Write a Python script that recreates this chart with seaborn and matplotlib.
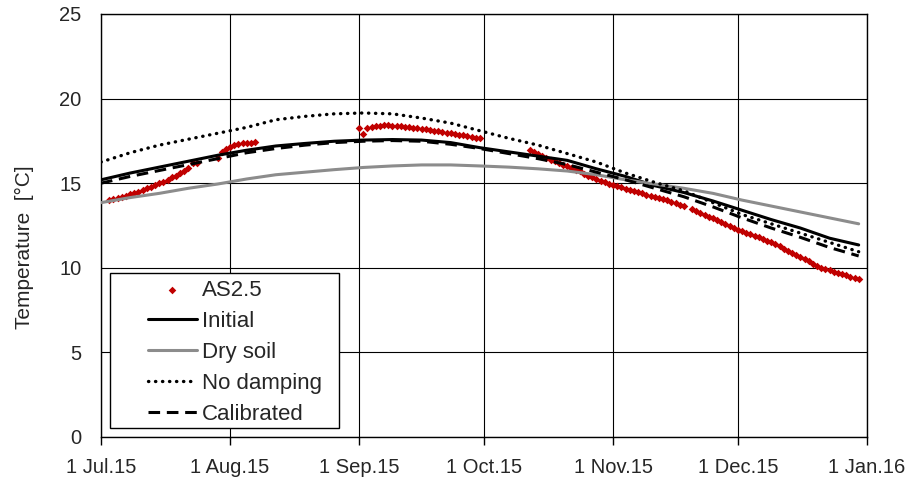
import matplotlib
matplotlib.use("Agg")
import matplotlib.pyplot as plt
from matplotlib.patches import Rectangle
import pandas as pd
import seaborn as sns

# Simulated temperatures, one value every 7 days from 1 Jul 2015
model_start = "2015-07-01"
initial = [15.2, 15.6, 15.95, 16.3, 16.65, 16.95, 17.2, 17.35, 17.48, 17.55, 17.58,
           17.55, 17.4, 17.1, 16.85, 16.6, 16.35, 15.85, 15.4, 14.85, 14.45, 13.95,
           13.4, 12.85, 12.35, 11.75, 11.35]
dry_soil = [13.85, 14.15, 14.4, 14.7, 14.95, 15.25, 15.5, 15.65, 15.8, 15.93, 16.02,
            16.08, 16.08, 16.02, 15.95, 15.85, 15.72, 15.5, 15.2, 14.95, 14.7, 14.4,
            14.0, 13.65, 13.3, 12.95, 12.6]
no_damping = [16.25, 16.8, 17.25, 17.6, 17.95, 18.3, 18.75, 18.95, 19.1, 19.15, 19.1,
              18.85, 18.55, 18.1, 17.65, 17.25, 16.75, 16.25, 15.6, 15.05, 14.55, 13.85,
              13.15, 12.6, 12.05, 11.5, 10.95]
calibrated = [15.0, 15.4, 15.75, 16.1, 16.45, 16.8, 17.05, 17.25, 17.4, 17.48, 17.52,
              17.48, 17.3, 17.05, 16.75, 16.45, 16.1, 15.65, 15.2, 14.7, 14.2, 13.6,
              12.95, 12.35, 11.8, 11.2, 10.7]

# Measured daily values at sensor AS2.5, in runs without gaps
as25_starts = ["2015-07-03", "2015-07-29", "2015-09-01", "2015-10-12", "2015-11-20"]
as25_runs = [
    [14.0, 14.05, 14.1, 14.2, 14.25, 14.35, 14.4, 14.5, 14.6, 14.7, 14.8, 14.9,
     15.0, 15.1, 15.2, 15.35, 15.45, 15.6, 15.75, 15.9, 16.2, 16.2],
    [16.47, 16.85, 17.05, 17.15, 17.25, 17.3, 17.35, 17.38, 17.4, 17.42],
    [18.24, 17.9, 18.24, 18.32, 18.38, 18.4, 18.42, 18.42, 18.4, 18.38, 18.36,
     18.34, 18.32, 18.28, 18.25, 18.2, 18.18, 18.14, 18.1, 18.06, 18.02, 17.98,
     17.94, 17.9, 17.86, 17.82, 17.78, 17.74, 17.7, 17.68],
    [16.96, 16.85, 16.75, 16.6, 16.5, 16.4, 16.3, 16.2, 16.1, 16.0, 15.9, 15.8,
     15.7, 15.55, 15.45, 15.35, 15.25, 15.15, 15.05, 14.98, 14.9, 14.82, 14.75,
     14.68, 14.6, 14.53, 14.46, 14.4, 14.32, 14.26, 14.2, 14.12, 14.05, 13.98,
     13.9, 13.82, 13.74, 13.65],
    [13.46, 13.36, 13.25, 13.14, 13.03, 12.93, 12.83, 12.72, 12.6, 12.48, 12.36,
     12.25, 12.15, 12.06, 11.98, 11.9, 11.8, 11.7, 11.6, 11.5, 11.38, 11.26, 11.13,
     11.0, 10.88, 10.76, 10.63, 10.5, 10.38, 10.25, 10.12, 10.0, 9.92, 9.85, 9.78,
     9.7, 9.62, 9.55, 9.48, 9.42, 9.36],
]

tick_dates = ["2015-07-01", "2015-08-01", "2015-09-01", "2015-10-01",
              "2015-11-01", "2015-12-01", "2016-01-01"]
tick_labels = ["1 Jul.15", "1 Aug.15", "1 Sep.15", "1 Oct.15",
               "1 Nov.15", "1 Dec.15", "1 Jan.16"]
y_ticks = [0, 5, 10, 15, 20, 25]

sns.set_theme(style="white")
plt.rcParams["font.family"] = ["Liberation Sans", "DejaVu Sans"]

model_dates = pd.date_range(model_start, periods=len(initial), freq="7D")
model = pd.DataFrame({"date": model_dates, "Initial": initial, "Dry soil": dry_soil,
                      "No damping": no_damping, "Calibrated": calibrated})
meas = pd.concat([
    pd.DataFrame({"date": pd.date_range(s, periods=len(v), freq="D"), "temp": v})
    for s, v in zip(as25_starts, as25_runs)
], ignore_index=True)

fig = plt.figure(figsize=(9.13, 4.79), dpi=100)
ax = fig.add_axes([101 / 913, 42 / 479, 766 / 913, 423 / 479])

sns.scatterplot(data=meas, x="date", y="temp", ax=ax, marker="D", s=15,
                color="#C00000", edgecolor="#C00000", linewidth=0,
                label="AS2.5", zorder=2)
sns.lineplot(data=model, x="date", y="Initial", ax=ax, color="black",
             linewidth=2.2, label="Initial", zorder=3)
sns.lineplot(data=model, x="date", y="Dry soil", ax=ax, color="#8C8C8C",
             linewidth=2.2, label="Dry soil", zorder=3)
sns.lineplot(data=model, x="date", y="No damping", ax=ax, color="black",
             linewidth=2.4, linestyle=(0, (0.1, 2.0)), dash_capstyle="round",
             label="No damping", zorder=3)
sns.lineplot(data=model, x="date", y="Calibrated", ax=ax, color="black",
             linewidth=2.2, linestyle=(0, (3.8, 2.2)), label="Calibrated", zorder=3)

ax.set_xlim(pd.Timestamp(tick_dates[0]), pd.Timestamp(tick_dates[-1]))
ax.set_ylim(0, 25)
ax.set_xticks([pd.Timestamp(d) for d in tick_dates])
ax.set_xticklabels(tick_labels, fontsize=14.5)
ax.set_yticks(y_ticks)
ax.set_yticklabels([str(v) for v in y_ticks], fontsize=14.5)
ax.tick_params(axis="x", direction="out", length=6, width=1, color="black",
               pad=9, bottom=True)
ax.tick_params(axis="y", length=0, pad=14)
ax.set_xlabel("")
ax.set_ylabel("Temperature  [°C]", fontsize=15)
ax.yaxis.set_label_coords(-0.088, 0.449)

ax.grid(True, color="black", linewidth=0.8)
ax.set_axisbelow(True)
for sp in ax.spines.values():
    sp.set_visible(True)
    sp.set_color("black")
    sp.set_linewidth(1.0)

handles, labels = ax.get_legend_handles_labels()
leg = ax.legend(handles, labels, loc="lower left",
                bbox_to_anchor=(47 / 766, 12 / 423), frameon=False,
                fontsize=16, handlelength=2.2, handletextpad=0.21,
                labelspacing=0.45, borderpad=0.0, borderaxespad=0.0)
ax.add_patch(Rectangle((9 / 766, 9 / 423), 229 / 766, 155 / 423,
                       transform=ax.transAxes, fill=True, facecolor="white",
                       edgecolor="black", linewidth=1.0, zorder=4))
leg.set_zorder(5)

fig.savefig("out.png", dpi=100)
